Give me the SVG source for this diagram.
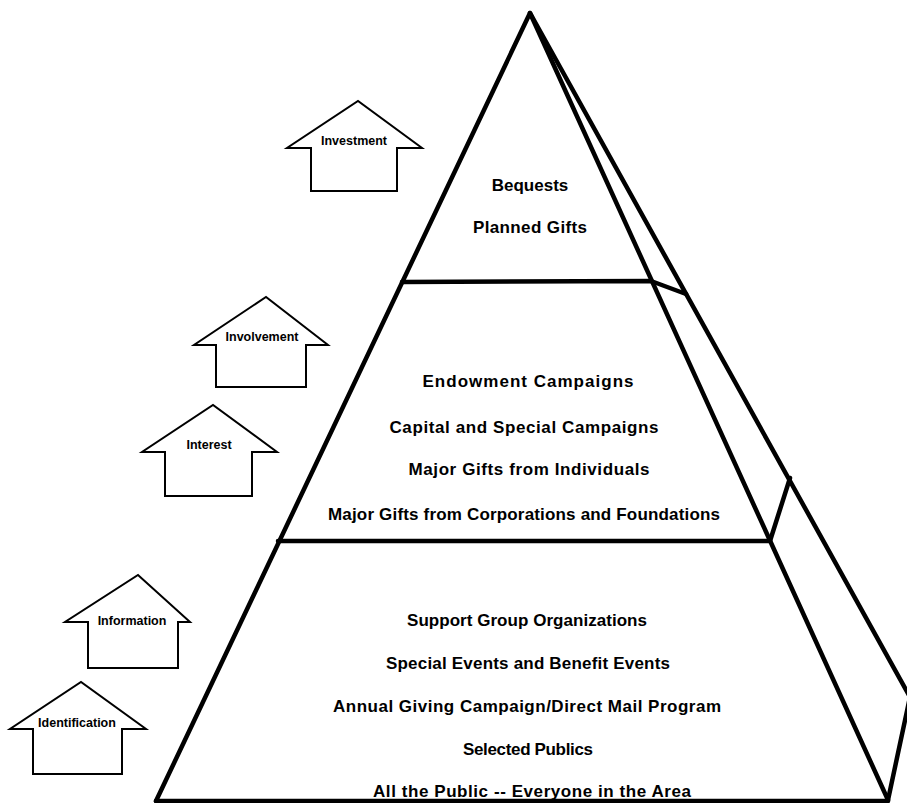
<svg xmlns="http://www.w3.org/2000/svg" width="907" height="803" viewBox="0 0 907 803">
  <style>
    .edge { fill: none; stroke: #000; stroke-width: 4.5; stroke-linejoin: round; stroke-linecap: round; }
    .house { fill: #fff; stroke: #000; stroke-width: 2; stroke-linejoin: miter; }
    .hl { font-family: "Liberation Sans", Arial, sans-serif; font-weight: bold; font-size: 12.5px; text-anchor: middle; fill: #000; }
    .tl { font-family: "Liberation Sans", Arial, sans-serif; font-weight: bold; font-size: 17px; text-anchor: middle; fill: #000; }
  </style>
  <rect width="907" height="803" fill="#fff"/>

  <!-- pyramid outline and tier divisions -->
  <g id="pyramid">
    <polyline class="edge" points="156,801 530,13 888,800"/>
    <line class="edge" x1="156" y1="801" x2="888" y2="801"/>
    <polyline class="edge" points="530,13 910,697 888,800"/>
    <polyline class="edge" points="402,282 651,281 686,294"/>
    <polyline class="edge" points="278,541 770,541 790,478"/>
  </g>

  <!-- top tier -->
  <g id="tier-top">
    <text class="tl" x="530" y="191">Bequests</text>
    <text class="tl" x="530" y="233" textLength="114">Planned Gifts</text>
  </g>

  <!-- middle tier -->
  <g id="tier-middle">
    <text class="tl" x="528" y="387" textLength="211">Endowment Campaigns</text>
    <text class="tl" x="524" y="433" textLength="269">Capital and Special Campaigns</text>
    <text class="tl" x="529" y="475" textLength="241">Major Gifts from Individuals</text>
    <text class="tl" x="524" y="520" textLength="392">Major Gifts from Corporations and Foundations</text>
  </g>

  <!-- bottom tier -->
  <g id="tier-bottom">
    <text class="tl" x="527" y="626" textLength="240">Support Group Organizations</text>
    <text class="tl" x="528" y="669" textLength="284">Special Events and Benefit Events</text>
    <text class="tl" x="527" y="712" textLength="388">Annual Giving Campaign/Direct Mail Program</text>
    <text class="tl" x="528" y="755" textLength="130">Selected Publics</text>
    <text class="tl" x="532" y="797" textLength="318">All the Public -- Everyone in the Area</text>
  </g>

  <!-- stage arrows -->
  <g id="investment">
    <path class="house" d="M311,191 V148 H287 L358,101 L422,148 H397 V191 Z"/>
    <text class="hl" x="354" y="145">Investment</text>
  </g>
  <g id="involvement">
    <path class="house" d="M216,387 V345 H194 L266,297 L328,345 H306 V387 Z"/>
    <text class="hl" x="262" y="341">Involvement</text>
  </g>
  <g id="interest">
    <path class="house" d="M165,496 V452 H142 L213,405 L277,452 H252 V496 Z"/>
    <text class="hl" x="209" y="449">Interest</text>
  </g>
  <g id="information">
    <path class="house" d="M88,668 V622 H65 L138,575 L190,622 H178 V668 Z"/>
    <text class="hl" x="132" y="625">Information</text>
  </g>
  <g id="identification">
    <path class="house" d="M33,774 V729 H10 L81,682 L146,729 H122 V774 Z"/>
    <text class="hl" x="77" y="727">Identification</text>
  </g>
</svg>
